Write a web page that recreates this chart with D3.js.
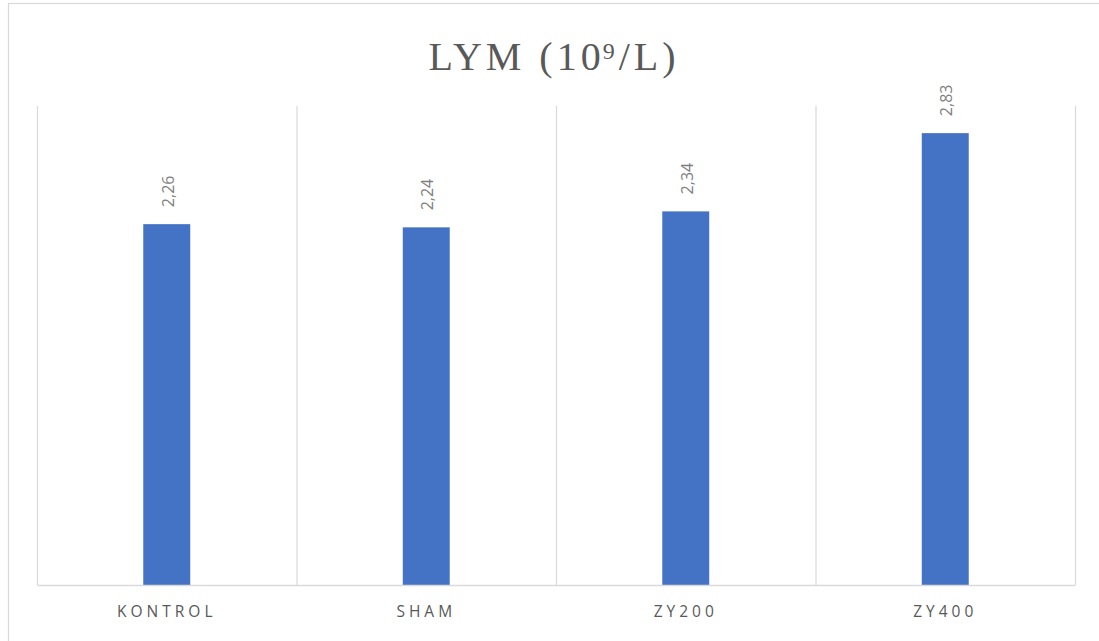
<!DOCTYPE html>
<html>
<head>
<meta charset="utf-8">
<script src="https://cdn.jsdelivr.net/npm/d3@7"></script>
<style>
  html, body { margin: 0; padding: 0; background: #fff; }
  svg { display: block; }
</style>
</head>
<body>
<svg id="chart" width="1099" height="641"></svg>
<script>
// LYM counts per group (10^9/L)
const categories = ["KONTROL", "SHAM", "ZY200", "ZY400"];
const values = [2.26, 2.24, 2.34, 2.83];
const valueLabels = ["2,26", "2,24", "2,34", "2,83"];
const yDomain = [0, 3];

const svg = d3.select("#chart");
const W = 1099, H = 641;
const plot = { left: 37, right: 1075, top: 106, bottom: 585 };

// chart frame
svg.append("rect")
  .attr("x", 8.5).attr("y", 3.5)
  .attr("width", W + 10).attr("height", H + 10)
  .attr("fill", "#fff").attr("stroke", "#d9d9d9").attr("stroke-width", 1.2);

// title
const title = svg.append("text")
  .attr("x", 554).attr("y", 70)
  .attr("text-anchor", "middle")
  .attr("font-family", "'Liberation Serif', 'Times New Roman', serif")
  .attr("font-size", 40)
  .attr("letter-spacing", 4)
  .attr("fill", "#595959");
title.append("tspan").text("LYM (10");
title.append("tspan").attr("font-size", 24).attr("dy", -11).attr("dx", -2).text("9");
title.append("tspan").attr("dy", 11).text("/L)");

const x = d3.scaleBand().domain(categories).range([plot.left, plot.right]).paddingInner(0).paddingOuter(0);
const y = d3.scaleLinear().domain(yDomain).range([plot.bottom, plot.top]);

// vertical category separators
const edges = categories.map(c => x(c)).concat([plot.right]);
svg.append("g").selectAll("line").data(edges).join("line")
  .attr("x1", d => d + 0.5).attr("x2", d => d + 0.5)
  .attr("y1", plot.top).attr("y2", plot.bottom)
  .attr("stroke", "#d9d9d9").attr("stroke-width", 1.2);

// bars
const barW = x.bandwidth() * 0.181;
svg.append("g").selectAll("rect").data(values).join("rect")
  .attr("x", (d, i) => x(categories[i]) + x.bandwidth() / 2 - barW / 2)
  .attr("y", d => y(d))
  .attr("width", barW)
  .attr("height", d => y(0) - y(d))
  .attr("fill", "#4472c4");

// value labels, rotated
svg.append("g").selectAll("text").data(values).join("text")
  .attr("transform", (d, i) => `translate(${x(categories[i]) + x.bandwidth() / 2 + 7},${y(d) - 17}) rotate(-90)`)
  .attr("font-family", "'Open Sans', sans-serif")
  .attr("font-size", 16)
  .attr("fill", "#7f7f7f")
  .text((d, i) => valueLabels[i]);

// x axis baseline
const xAxis = d3.axisBottom(x).tickSize(0).tickPadding(21);
const gx = svg.append("g").attr("transform", `translate(0,${plot.bottom})`).call(xAxis);
gx.select(".domain").attr("stroke", "#d9d9d9").attr("stroke-width", 1.5);
gx.selectAll("text")
  .attr("font-family", "'Open Sans', sans-serif")
  .attr("font-size", 15.5)
  .attr("letter-spacing", 4)
  .attr("fill", "#595959");
</script>
</body>
</html>
